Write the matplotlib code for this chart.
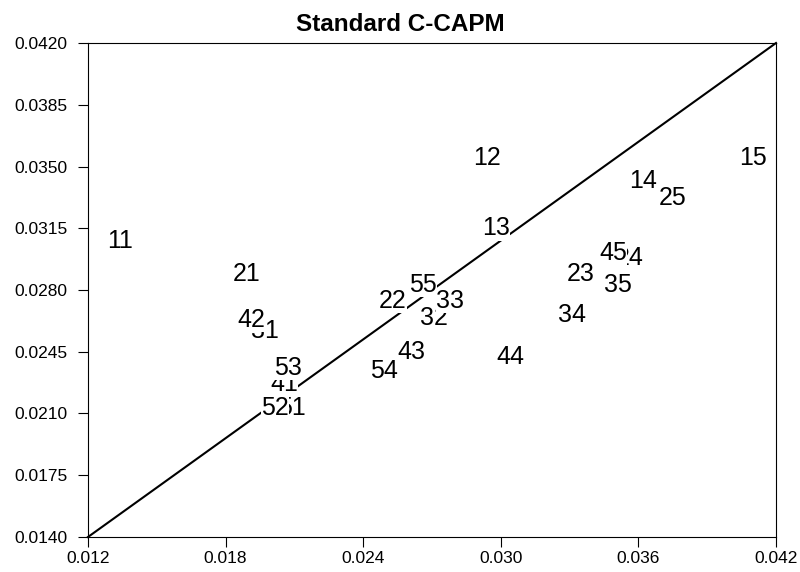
import matplotlib.pyplot as plt
import numpy as np

plt.rcParams['font.family'] = ['Liberation Sans', 'DejaVu Sans']

# portfolio labels and (realized, predicted) values
labels = ['11', '21', '31', '41', '51',
          '12', '22', '32', '42', '52',
          '13', '23', '33', '43', '53',
          '14', '24', '34', '44', '54',
          '15', '25', '35', '45', '55']
x_vals = [0.0134, 0.0189, 0.0197, 0.02055, 0.0209,
          0.0294, 0.0253, 0.0271, 0.0191, 0.02015,
          0.0298, 0.0335, 0.0278, 0.0261, 0.0207,
          0.0362, 0.0356, 0.0331, 0.0304, 0.0249,
          0.0410, 0.0375, 0.0351, 0.0349, 0.0266]
y_vals = [0.0308, 0.0289, 0.0257, 0.0227, 0.0213,
          0.0355, 0.0274, 0.0264, 0.0263, 0.0213,
          0.0315, 0.0289, 0.0274, 0.0245, 0.0236,
          0.0342, 0.0298, 0.0266, 0.0242, 0.0234,
          0.0355, 0.0332, 0.0283, 0.0301, 0.0283]

xticks = np.arange(0.012, 0.0421, 0.006)
yticks = np.arange(0.014, 0.04201, 0.0035)

fig = plt.figure(figsize=(8, 5.72), dpi=100)
ax = fig.add_axes([0.11, 0.0612, 0.86, 0.8636])

ax.plot([0.012, 0.042], [0.014, 0.042], color='black', lw=1.5, zorder=1, clip_on=False)

for i, lab in enumerate(labels):
    ax.text(x_vals[i], y_vals[i], lab, fontsize=18, ha='center', va='center',
            zorder=2 + i,
            bbox=dict(facecolor='white', edgecolor='none', pad=0.12))

ax.set_xlim(0.012, 0.042)
ax.set_ylim(0.014, 0.042)
ax.set_xticks(xticks)
ax.set_yticks(yticks)
ax.set_xticklabels([f'{v:.3f}' for v in xticks])
ax.set_yticklabels([f'{v:.4f}' for v in yticks])
ax.tick_params(direction='out', length=7, width=0.8, labelsize=12.5)
ax.tick_params(axis='y', pad=8)
ax.tick_params(axis='x', pad=3)
for s in ax.spines.values():
    s.set_linewidth(0.8)
# title is centred on the figure, not on the axes
ax.set_title('Standard C-CAPM', fontweight='bold', fontsize=17.5, pad=9,
             x=(400 - 88) / 688)

plt.savefig('out.png', dpi=100)
